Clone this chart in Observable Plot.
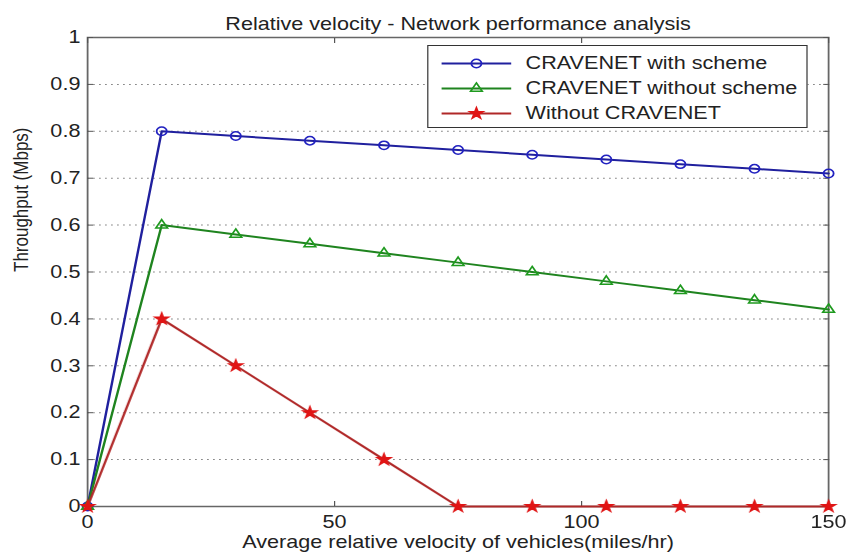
<!DOCTYPE html>
<html>
<head>
<meta charset="utf-8">
<script src="https://cdn.jsdelivr.net/npm/d3@7"></script>
<script src="https://cdn.jsdelivr.net/npm/@observablehq/plot@0.6"></script>
<style>
  html, body { margin: 0; padding: 0; background: white; overflow: hidden; }
  #wrap { position: relative; width: 705px; height: 557px; transform: scaleX(1.2); transform-origin: 0 0; }
  #legend { position: absolute; left: 356px; top: 45px; width: 317px; height: 83px; box-sizing: border-box;
            border: 1px solid #333; background: white; font-family: "Liberation Sans", Arial, sans-serif;
            font-size: 18px; color: #222; }
  .row { position: absolute; left: 0; height: 25px; display: flex; align-items: center; }
  .row svg { display: block; }
  .row span { margin-left: 6px; white-space: nowrap; }
</style>
</head>
<body>
<div id="wrap"><div id="legend"></div></div>
<script>
// ---- data ----
const velocity = [0, 15, 30, 45, 60, 75, 90, 105, 120, 135, 150];
const withScheme = [0, 0.80, 0.79, 0.78, 0.77, 0.76, 0.75, 0.74, 0.73, 0.72, 0.71];
const withoutScheme = [0, 0.60, 0.58, 0.56, 0.54, 0.52, 0.50, 0.48, 0.46, 0.44, 0.42];
const withoutCravenet = [0, 0.40, 0.30, 0.20, 0.10, 0, 0, 0, 0, 0, 0];
const seriesNames = ["CRAVENET with scheme", "CRAVENET without scheme", "Without CRAVENET"];
const xTicks = [0, 50, 100, 150];
const yTicks = [0, 0.1, 0.2, 0.3, 0.4, 0.5, 0.6, 0.7, 0.8, 0.9, 1];
const gridTicks = [0.1, 0.2, 0.3, 0.4, 0.5, 0.6, 0.7, 0.8, 0.9];
const titleText = "Relative velocity - Network performance analysis";
const xLabel = "Average relative velocity of vehicles(miles/hr)";
const yLabel = "Throughput (Mbps)";

const styles = [
  {line: "#20209e", stroke: "#2222c0", fill: "none", symbol: "circle", r: 4.2},
  {line: "#1f841f", stroke: "#1f9a1f", fill: "none", symbol: "triangle", r: 3.6},
  {line: "#b02828", stroke: "#e01515", fill: "#e01515", symbol: "star", r: 3.4}
];
const values = [withScheme, withoutScheme, withoutCravenet];
const table = seriesNames.map((name, s) => velocity.map((v, i) => ({series: name, x: v, y: values[s][i]})));

const marks = [
  Plot.gridY(gridTicks, {stroke: "#8a8a8a", strokeOpacity: 1, strokeWidth: 1, strokeDasharray: "1.5,3.5"}),
  Plot.frame({stroke: "#666", strokeWidth: 1.5}),
  Plot.axisY(yTicks, {anchor: "left", tickSize: -5, tickPadding: 11, tickFormat: d => String(d), label: null, stroke: "#555", fontSize: 18}),
  Plot.axisY(yTicks, {anchor: "right", tickSize: -5, tickFormat: () => "", label: null, stroke: "#555"}),
  Plot.axisX(xTicks, {anchor: "bottom", tickSize: -5, tickPadding: 14, tickFormat: d => String(d), label: null, stroke: "#555", fontSize: 18}),
  Plot.axisX(xTicks, {anchor: "top", tickSize: -5, tickFormat: () => "", label: null, stroke: "#555"})
];
table.forEach((rows, s) => {
  const st = styles[s];
  marks.push(Plot.line(rows, {x: "x", y: "y", stroke: st.line, strokeWidth: 2}));
  marks.push(Plot.dot(rows, {x: "x", y: "y", symbol: st.symbol, r: st.r, stroke: st.stroke, fill: st.fill, strokeWidth: 1.5}));
});
marks.push(Plot.text([titleText], {text: d => d, frameAnchor: "top", dy: -20, fontSize: 18, fill: "#222"}));
marks.push(Plot.text([xLabel], {text: d => d, frameAnchor: "bottom", dy: 41, fontSize: 18, fill: "#222"}));
marks.push(Plot.text([yLabel], {text: d => d, frameAnchor: "left", dx: -55, rotate: -90, fontSize: 17, fill: "#222"}));

const chart = Plot.plot({
  width: 705,
  height: 557,
  marginLeft: 72.5,
  marginRight: 15,
  marginTop: 37,
  marginBottom: 51,
  style: {fontFamily: "'Liberation Sans', Arial, sans-serif", fontSize: "18px", color: "#222", background: "white", overflow: "visible"},
  x: {domain: [0, 150]},
  y: {domain: [0, 1]},
  marks
});
document.getElementById("wrap").prepend(chart);

// legend
const legend = document.getElementById("legend");
seriesNames.forEach((name, s) => {
  const st = styles[s];
  const row = document.createElement("div");
  row.className = "row";
  row.style.top = (4.5 + s * 25) + "px";
  const sym = d3.symbol(st.symbol === "circle" ? d3.symbolCircle : st.symbol === "triangle" ? d3.symbolTriangle : d3.symbolStar, st.r * st.r * Math.PI)();
  row.innerHTML = `<svg width="75" height="25"><line x1="11" x2="69" y1="12.5" y2="12.5" stroke="${st.line}" stroke-width="2"/>` +
    `<path d="${sym}" transform="translate(40,12.5)" stroke="${st.stroke}" fill="${st.fill}" stroke-width="1.5"/></svg><span>${name}</span>`;
  legend.appendChild(row);
});
</script>
</body>
</html>
